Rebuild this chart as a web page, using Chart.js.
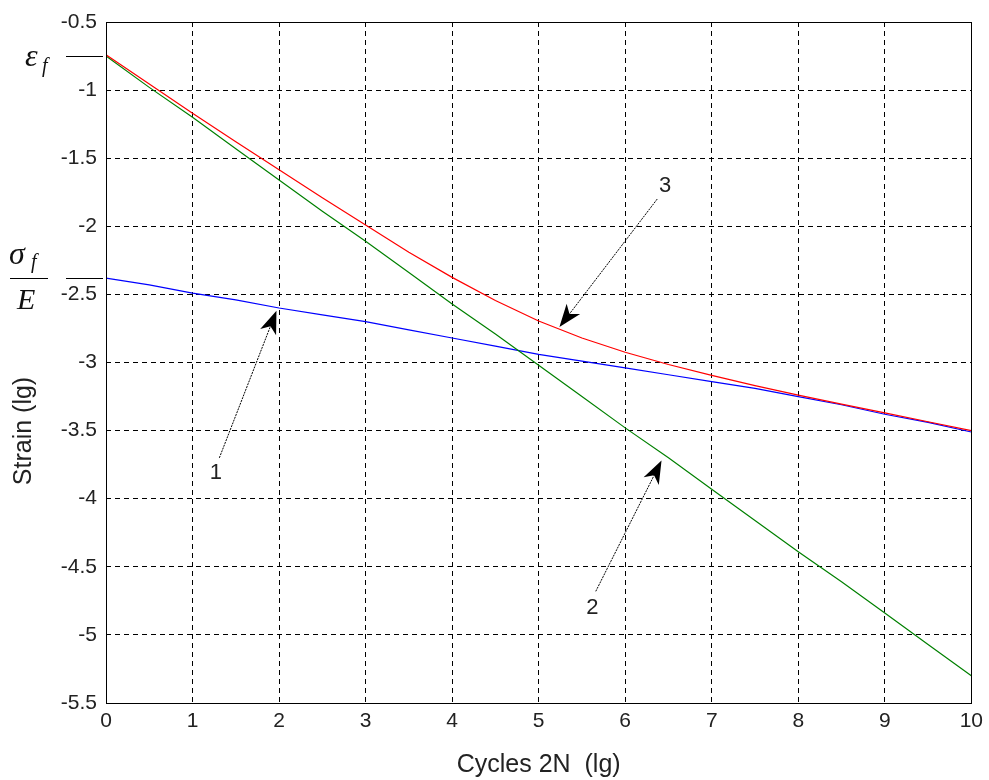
<!DOCTYPE html>
<html>
<head>
<meta charset="utf-8">
<script src="https://cdn.jsdelivr.net/npm/chart.js@4.4.1/dist/chart.umd.min.js"></script>
<style>
  html, body { margin: 0; padding: 0; background: #fff; }
</style>
</head>
<body>
<canvas id="grafico" width="989" height="780"></canvas>
<script>
// ====== DADOS ======
const ciclos = [0, 0.5, 1, 1.5, 2, 2.5, 3, 3.5, 4, 4.5, 5, 5.5, 6, 6.5, 7, 7.5, 8, 8.5, 9, 9.5, 10];

// curva 1 - elastica (azul)
const curva1 = [-2.38, -2.43, -2.49, -2.54, -2.60, -2.65, -2.70, -2.76, -2.82, -2.88, -2.94,
                -2.99, -3.04, -3.09, -3.14, -3.19, -3.25, -3.31, -3.38, -3.44, -3.51];
// curva 2 - plastica (verde)
const curva2 = [-0.75, -0.98, -1.20, -1.43, -1.66, -1.89, -2.11, -2.34, -2.57, -2.79, -3.02,
                -3.25, -3.48, -3.70, -3.93, -4.16, -4.39, -4.61, -4.84, -5.07, -5.30];
// curva 3 - total (vermelha)
const curva3 = [-0.74, -0.955, -1.17, -1.38, -1.585, -1.79, -1.99, -2.19, -2.375, -2.545, -2.695,
                -2.82, -2.925, -3.015, -3.095, -3.17, -3.24, -3.305, -3.37, -3.435, -3.50];

const ticksX = [0, 1, 2, 3, 4, 5, 6, 7, 8, 9, 10];
const ticksY = [-0.5, -1, -1.5, -2, -2.5, -3, -3.5, -4, -4.5, -5, -5.5];

// setas numeradas: rotulo, inicio, ponta, texto (coordenadas do grafico)
const setas = [
  { rotulo: "1", de: [1.31, -3.70], para: [1.97, -2.62], texto: [1.27, -3.81] },
  { rotulo: "2", de: [5.66, -4.68], para: [6.42, -3.72], texto: [5.62, -4.80] },
  { rotulo: "3", de: [6.37, -1.80], para: [5.24, -2.74], texto: [6.46, -1.70] }
];

// ====== ESTILO ======
const fonte = "'Liberation Sans', Arial, sans-serif";
const serif = "'Liberation Serif', 'Times New Roman', serif";
const corTexto = "#222";

function serie(ys) {
  return ciclos.map((c, i) => ({ x: c, y: ys[i] }));
}

function desenharSeta(ctx, x0, y0, x1, y1) {
  const ang = Math.atan2(y1 - y0, x1 - x0);
  const L = 23, W = 8.5;
  ctx.save();
  ctx.strokeStyle = "#000";
  ctx.lineWidth = 1;
  ctx.setLineDash([2, 1]);
  ctx.beginPath();
  ctx.moveTo(x0, y0);
  ctx.lineTo(x1 - Math.cos(ang) * L * 0.7, y1 - Math.sin(ang) * L * 0.7);
  ctx.stroke();
  ctx.setLineDash([]);
  ctx.translate(x1, y1);
  ctx.rotate(ang);
  ctx.fillStyle = "#000";
  ctx.beginPath();
  ctx.moveTo(0, 0);
  ctx.lineTo(-L, -W);
  ctx.lineTo(-L * 0.72, 0);
  ctx.lineTo(-L, W);
  ctx.closePath();
  ctx.fill();
  ctx.restore();
}

// ====== ANOTACOES ======
const anotacoes = {
  id: "anotacoes",
  afterDatasetsDraw(chart) {
    const { ctx, chartArea: a, scales: { x, y } } = chart;
    ctx.save();

    // moldura
    ctx.strokeStyle = "#000";
    ctx.lineWidth = 1;
    ctx.strokeRect(Math.round(a.left) + 0.5, Math.round(a.top) + 0.5,
                   Math.round(a.right - a.left), Math.round(a.bottom - a.top));

    // setas
    ctx.font = "22px " + fonte;
    ctx.textAlign = "center";
    ctx.textBaseline = "middle";
    setas.forEach(s => {
      desenharSeta(ctx, x.getPixelForValue(s.de[0]), y.getPixelForValue(s.de[1]),
                   x.getPixelForValue(s.para[0]), y.getPixelForValue(s.para[1]));
      ctx.fillStyle = corTexto;
      ctx.fillText(s.rotulo, x.getPixelForValue(s.texto[0]), y.getPixelForValue(s.texto[1]));
    });

    // epsilon_f e sigma_f / E
    const yEps = Math.round(y.getPixelForValue(curva2[0])) + 0.5;
    const ySig = Math.round(y.getPixelForValue(curva1[0])) + 0.5;
    ctx.strokeStyle = "#000";
    ctx.beginPath();
    ctx.moveTo(a.left - 40, yEps); ctx.lineTo(a.left - 3, yEps);
    ctx.moveTo(a.left - 40, ySig); ctx.lineTo(a.left - 3, ySig);
    ctx.moveTo(10, ySig); ctx.lineTo(48, ySig);
    ctx.stroke();

    ctx.fillStyle = "#111";
    ctx.textAlign = "left";
    ctx.textBaseline = "alphabetic";
    ctx.font = "italic 32px " + serif;
    ctx.fillText("\u03b5", 25, yEps + 9);
    ctx.fillText("\u03c3", 9, ySig - 15);
    ctx.font = "italic 30px " + serif;
    ctx.fillText("E", 17, ySig + 30);
    ctx.font = "italic 20px " + serif;
    ctx.fillText("f", 42, yEps + 15);
    ctx.fillText("f", 31, ySig - 11);

    // titulos dos eixos
    ctx.fillStyle = corTexto;
    ctx.font = "25px " + fonte;
    ctx.textAlign = "center";
    ctx.textBaseline = "middle";
    ctx.fillText("Cycles 2N  (lg)", (a.left + a.right) / 2, 765);
    ctx.translate(24, 431);
    ctx.rotate(-Math.PI / 2);
    ctx.fillText("Strain (lg)", 0, 0);

    ctx.restore();
  }
};

// ====== GRAFICO ======
const ctx = document.getElementById("grafico").getContext("2d");

new Chart(ctx, {
  type: "line",
  data: {
    datasets: [
      { data: serie(curva3), borderColor: "#ff0000" },
      { data: serie(curva2), borderColor: "#008000" },
      { data: serie(curva1), borderColor: "#0000ff" }
    ]
  },
  options: {
    responsive: false,
    animation: false,
    devicePixelRatio: 1,
    layout: { padding: { top: 22, right: 15, bottom: 0, left: 0 } },
    elements: {
      line: { borderWidth: 1.2, tension: 0, fill: false },
      point: { radius: 0 }
    },
    plugins: { legend: { display: false }, tooltip: { enabled: false } },
    scales: {
      x: {
        type: "linear",
        min: 0,
        max: 10,
        afterBuildTicks: s => { s.ticks = ticksX.map(v => ({ value: v })); },
        afterFit: s => { s.height = 77; },
        grid: { color: "#000", lineWidth: 1, drawTicks: false },
        border: { display: false, dash: [5, 4] },
        ticks: { color: corTexto, padding: 6, maxRotation: 0, font: { family: fonte, size: 21 } }
      },
      y: {
        type: "linear",
        min: -5.5,
        max: -0.5,
        afterBuildTicks: s => { s.ticks = ticksY.map(v => ({ value: v })); },
        afterFit: s => { s.width = 106; },
        grid: { color: "#000", lineWidth: 1, drawTicks: false },
        border: { display: false, dash: [5, 4] },
        ticks: {
          color: corTexto,
          padding: 9,
          font: { family: fonte, size: 21 },
          callback: v => String(v)
        }
      }
    }
  },
  plugins: [anotacoes]
});
</script>
</body>
</html>
